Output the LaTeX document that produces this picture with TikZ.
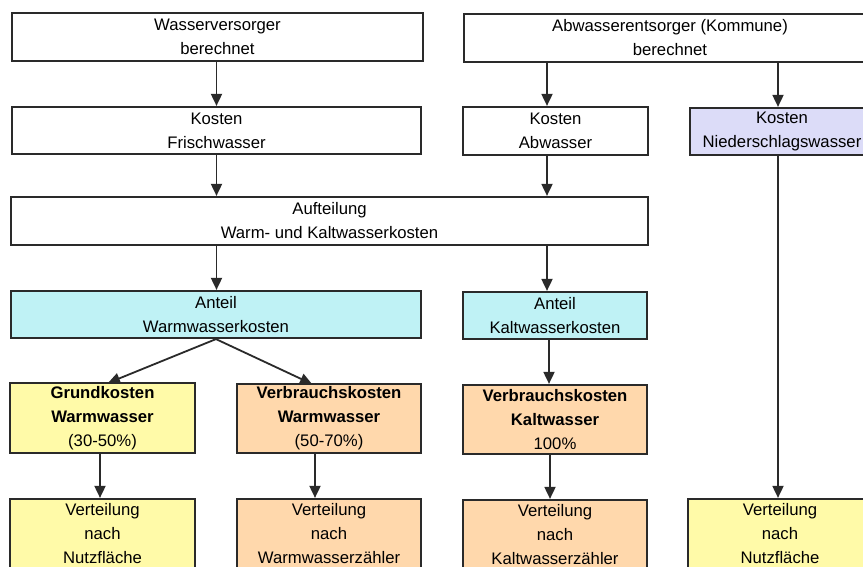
\documentclass[tikz,border=0pt]{standalone}
\usepackage{fontspec}
\setmainfont{Liberation Sans}
\usetikzlibrary{arrows.meta}
\definecolor{lav}{HTML}{DCDCF8}
\definecolor{cyanbox}{HTML}{BFF2F5}
\definecolor{yel}{HTML}{FFFAA8}
\definecolor{peach}{HTML}{FFD8AC}
\definecolor{ink}{HTML}{2A2A2A}
\tikzset{
  flowbox/.style={draw=ink, line width=2.2pt, fill=white, inner sep=0pt, align=center,
    font=\fontsize{16.7}{24}\selectfont},
  arr/.style={draw=ink, line width=1.8pt, -{Triangle[width=11pt,length=12pt]}},
}
\begin{document}
\begin{tikzpicture}[x=1pt,y=-1pt]
\useasboundingbox (0,0) rectangle (863,567);
\clip (0,0) rectangle (863,567);
\fill[white] (0,0) rectangle (863,567);

% row 1
\node[flowbox, minimum width=411pt, minimum height=48pt] (w1) at (217.5,37) {Wasserversorger\\berechnet};
\node[flowbox, minimum width=412pt, minimum height=48pt] (a1) at (670,38) {Abwasserentsorger (Kommune)\\berechnet};
% row 2
\node[flowbox, minimum width=409pt, minimum height=47pt] (kf) at (216.5,130.5) {Kosten\\Frischwasser};
\node[flowbox, minimum width=185pt, minimum height=48pt] (ka) at (555.5,131) {Kosten\\Abwasser};
\node[flowbox, fill=lav, minimum width=184pt, minimum height=47pt] (kn) at (782,131.5) {Kosten\\Niederschlagswasser};
% row 3
\node[flowbox, minimum width=637pt, minimum height=48pt] (auf) at (329.5,221) {Aufteilung\\Warm- und Kaltwasserkosten};
% row 4
\node[flowbox, fill=cyanbox, minimum width=410pt, minimum height=47pt] (aw) at (216,314.5) {Anteil\\Warmwasserkosten};
\node[flowbox, fill=cyanbox, minimum width=184pt, minimum height=47pt] (ak) at (555,315.5) {Anteil\\Kaltwasserkosten};
% row 5
\node[flowbox, fill=yel, minimum width=185pt, minimum height=70pt] (gw) at (102.5,418) {\textbf{Grundkosten}\\\textbf{Warmwasser}\\(30-50\%)};
\node[flowbox, fill=peach, minimum width=184pt, minimum height=69pt] (vw) at (329,418.5) {\textbf{Verbrauchskosten}\\\textbf{Warmwasser}\\(50-70\%)};
\node[flowbox, fill=peach, minimum width=184pt, minimum height=69pt] (vk) at (555,419.5) {\textbf{Verbrauchskosten}\\\textbf{Kaltwasser}\\100\%};
% row 6
\node[flowbox, fill=yel, minimum width=185pt, minimum height=70pt] (b1) at (102.5,534) {Verteilung\\nach\\Nutzfläche};
\node[flowbox, fill=peach, minimum width=184pt, minimum height=70pt] (b2) at (329,534) {Verteilung\\nach\\Warmwasserzähler};
\node[flowbox, fill=peach, minimum width=184pt, minimum height=70pt] (b3) at (555,535) {Verteilung\\nach\\Kaltwasserzähler};
\node[flowbox, fill=yel, minimum width=184pt, minimum height=70pt] (b4) at (780,534) {Verteilung\\nach\\Nutzfläche};

% guide coordinates for vertical connectors
\coordinate (xl) at (216.5,0);
\coordinate (xm) at (547,0);
\coordinate (xm2) at (549,0);
\coordinate (xm3) at (550,0);
\coordinate (xr) at (778,0);
\coordinate (xg) at (100,0);
\coordinate (xv) at (315,0);
\coordinate (tg) at (108,383);
\coordinate (tv) at (312,384);

\draw[arr] (w1.south -| xl) -- (kf.north -| xl);
\draw[arr] (kf.south -| xl) -- (auf.north -| xl);
\draw[arr] (auf.south -| xl) -- (aw.north -| xl);
\draw[arr] (a1.south -| xm) -- (ka.north -| xm);
\draw[arr] (ka.south -| xm) -- (auf.north -| xm);
\draw[arr] (auf.south -| xm) -- (ak.north -| xm);
\draw[arr] (ak.south -| xm2) -- (vk.north -| xm2);
\draw[arr] (vk.south -| xm3) -- (b3.north -| xm3);
\draw[arr] (a1.south -| xr) -- (kn.north -| xr);
\draw[arr] (kn.south -| xr) -- (b4.north -| xr);
\draw[arr] (aw.south) -- (tg);
\draw[arr] (aw.south) -- (tv);
\draw[arr] (gw.south -| xg) -- (b1.north -| xg);
\draw[arr] (vw.south -| xv) -- (b2.north -| xv);
\end{tikzpicture}
\end{document}
